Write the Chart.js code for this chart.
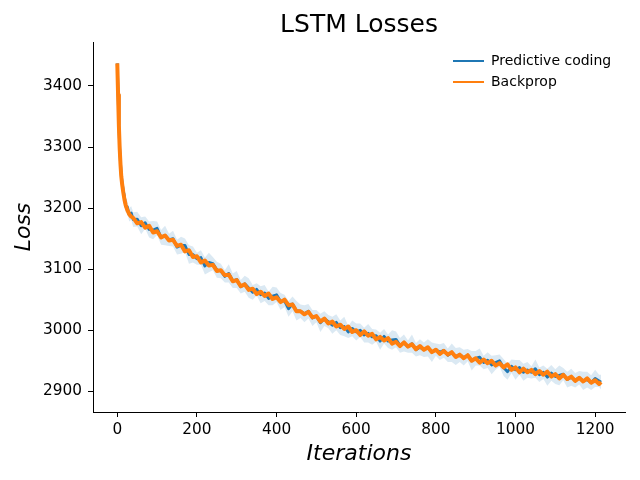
<!DOCTYPE html>
<html>
<head>
<meta charset="utf-8">
<script src="https://cdn.jsdelivr.net/npm/chart.js@4.4.1/dist/chart.umd.min.js"></script>
<style>
  html, body { margin: 0; padding: 0; background: #fff; }
  #wrap { width: 640px; height: 480px; }
</style>
</head>
<body>
<div id="wrap"><canvas id="c" width="640" height="480"></canvas></div>
<script>
const iterations = [0,2,4,6,8,10,12,15,18,21,25,30,35,40,
50,60,70,80,90,100,110,120,130,140,150,160,170,180,190,200,210,220,230,240,250,260,270,280,290,300,
310,320,330,340,350,360,370,380,390,400,410,420,430,440,450,460,470,480,490,500,510,520,530,540,550,
560,570,580,590,600,610,620,630,640,650,660,670,680,690,700,710,720,730,740,750,760,770,780,790,800,
810,820,830,840,850,860,870,880,890,900,910,920,930,940,950,960,970,980,990,1000,1010,1020,1030,1040,
1050,1060,1070,1080,1090,1100,1110,1120,1130,1140,1150,1160,1170,1180,1190,1200,1210,1215];

const predictiveCoding = [3437,3386,3336,3299,3274,3254,3243,3229,3219,3203,3202,3189,3192,3181,
3182,3171,3176,3165,3164,3167,3152,3155,3148,3150,
3136,3139,3139,3124,3124,3117,3119,3105,3111,3109,
3099,3097,3088,3093,3081,3083,3071,3076,3069,3062,
3067,3058,3061,3052,3056,3058,3047,3048,3035,3043,
3032,3031,3027,3031,3020,3023,3012,3019,3014,3008,
3013,3004,3006,2997,3003,2997,3000,2992,2995,2989,
2991,2982,2990,2982,2984,2985,2975,2979,2973,2978,
2968,2972,2968,2971,2964,2968,2964,2967,2959,2963,
2957,2960,2955,2959,2950,2954,2956,2947,2951,2943,
2947,2950,2939,2932,2941,2935,2939,2931,2935,2931,
2937,2927,2931,2923,2930,2924,2926,2928,2919,2923,
2918,2922,2917,2919,2914,2921,2917,
2915];

const backprop = [3437,3385,3335,3298,3272,3252,3240,3226,3214,3205,3197,3190,3186,3184,
3175,3177,3168,3171,3160,3162,3152,3155,3147,3148,
3138,3140,3129,3131,3120,3121,3111,3114,3106,3107,
3097,3098,3090,3091,3080,3082,3072,3075,3066,3068,
3059,3063,3056,3060,3051,3054,3046,3050,3041,3042,
3031,3031,3026,3030,3021,3023,3014,3019,3011,3014,
3006,3009,3002,3006,2997,3000,2992,2998,2991,2994,
2985,2989,2983,2987,2978,2981,2974,2980,2973,2977,
2969,2974,2968,2972,2964,2968,2961,2966,2960,2964,
2956,2960,2954,2959,2950,2954,2947,2952,2946,2950,
2942,2946,2939,2944,2935,2939,2931,2937,2931,2935,
2928,2933,2927,2932,2924,2928,2921,2927,2920,2924,
2917,2922,2916,2921,2914,2918,2912,
2915];

// spread of the shaded band around the predictive-coding curve
const pcSpread = [3,4,4,5,5,6,7,8,9,10,10,11,11,12,
12,14,10,13,15,11,12,16,10,13,
12,14,11,15,13,10,12,14,16,11,
13,12,10,15,12,14,11,13,16,12,
10,14,13,11,15,12,14,10,13,12,
16,11,14,12,13,10,15,12,11,14,
13,12,16,10,13,14,11,12,15,13,
10,14,12,11,16,13,12,14,10,15,
11,13,12,14,16,10,13,12,11,15,
14,12,13,10,16,12,14,11,13,15,
12,10,14,13,11,16,12,14,13,10,
15,12,11,14,13,12,16,10,13,14,
12,11,15,13,12,14,10,12];

const xTicks = [0,200,400,600,800,1000,1200];
const yTicks = [2900,3000,3100,3200,3300,3400];
const seriesNames = ['Predictive coding','Backprop'];

const BLUE = '#1f77b4', ORANGE = '#ff7f0e';
const pts = arr => iterations.map((x,i) => ({x: x, y: arr[i]}));
const bandUpper = predictiveCoding.map((v,i) => v + pcSpread[i]);
const bandLower = predictiveCoding.map((v,i) => v - pcSpread[i]);

Chart.defaults.font.family = "'DejaVu Sans', sans-serif";
Chart.defaults.color = '#000';

const legendMover = {
  id: 'legendMover',
  beforeDraw(chart) {
    const lg = chart.legend;
    if (!lg) return;
    const w = lg.width, h = lg.height;
    lg.left = 446; lg.right = lg.left + w;
    lg.top = 47; lg.bottom = lg.top + h;
  }
};

new Chart(document.getElementById('c'), {
  type: 'line',
  data: {
    datasets: [
      { label: seriesNames[0], data: pts(predictiveCoding), borderColor: BLUE, backgroundColor: BLUE,
        borderWidth: 2.8, borderJoinStyle: 'round', pointRadius: 0, fill: false, order: 2 },
      { label: seriesNames[1], data: pts(backprop), borderColor: ORANGE, backgroundColor: ORANGE,
        borderWidth: 4, borderJoinStyle: 'round', pointRadius: 0, fill: false, order: 1 },
      { label: 'pc_upper', data: pts(bandUpper), borderWidth: 0, borderColor: 'rgba(0,0,0,0)',
        backgroundColor: 'rgba(31,119,180,0.16)', pointRadius: 0, fill: '+1', order: 3 },
      { label: 'pc_lower', data: pts(bandLower), borderWidth: 0, borderColor: 'rgba(0,0,0,0)',
        backgroundColor: 'rgba(31,119,180,0.16)', pointRadius: 0, fill: false, order: 4 }
    ]
  },
  options: {
    responsive: false,
    animation: false,
    devicePixelRatio: 1,
    layout: { padding: { left: 0, right: 15, top: 0, bottom: 0 } },
    elements: { line: { tension: 0 } },
    plugins: {
      title: {
        display: true, text: 'LSTM Losses', fullSize: false,
        font: { size: 25, weight: 'normal' }, color: '#000',
        padding: { top: 10, bottom: 2 }
      },
      legend: {
        display: true, position: 'chartArea', align: 'start',
        labels: {
          boxWidth: 31, boxHeight: 2, padding: 7,
          font: { size: 14 }, color: '#000',
          generateLabels: () => [
            { text: seriesNames[0], fillStyle: BLUE, strokeStyle: BLUE, lineWidth: 0, datasetIndex: 0, hidden: false },
            { text: seriesNames[1], fillStyle: ORANGE, strokeStyle: ORANGE, lineWidth: 0, datasetIndex: 1, hidden: false }
          ]
        }
      },
      tooltip: { enabled: false }
    },
    scales: {
      x: {
        type: 'linear', min: -61, max: 1275,
        afterFit: s => { s.height = 68; },
        afterBuildTicks: s => { s.ticks = xTicks.map(v => ({ value: v })); },
        grid: { display: true, drawOnChartArea: false, drawTicks: true, tickLength: 5, color: '#000', tickColor: '#000' },
        border: { display: true, color: '#000', width: 1 },
        ticks: { font: { size: 15.3 }, color: '#000', padding: 4, maxRotation: 0, autoSkip: false,
                 callback: v => String(v) },
        title: { display: true, text: 'Iterations', font: { size: 22, style: 'italic' }, color: '#000',
                 padding: { top: 0, bottom: 13 } }
      },
      y: {
        type: 'linear', min: 2866, max: 3472,
        afterFit: s => { s.width = 93; },
        afterBuildTicks: s => { s.ticks = yTicks.map(v => ({ value: v })); },
        grid: { display: true, drawOnChartArea: false, drawTicks: true, tickLength: 5, color: '#000', tickColor: '#000' },
        border: { display: true, color: '#000', width: 1 },
        ticks: { font: { size: 15.3 }, color: '#000', padding: 6, autoSkip: false,
                 callback: v => String(v) },
        title: { display: true, text: 'Loss', font: { size: 22, style: 'italic' }, color: '#000',
                 padding: { top: 11, bottom: 0 } }
      }
    }
  },
  plugins: [legendMover]
});
</script>
</body>
</html>
